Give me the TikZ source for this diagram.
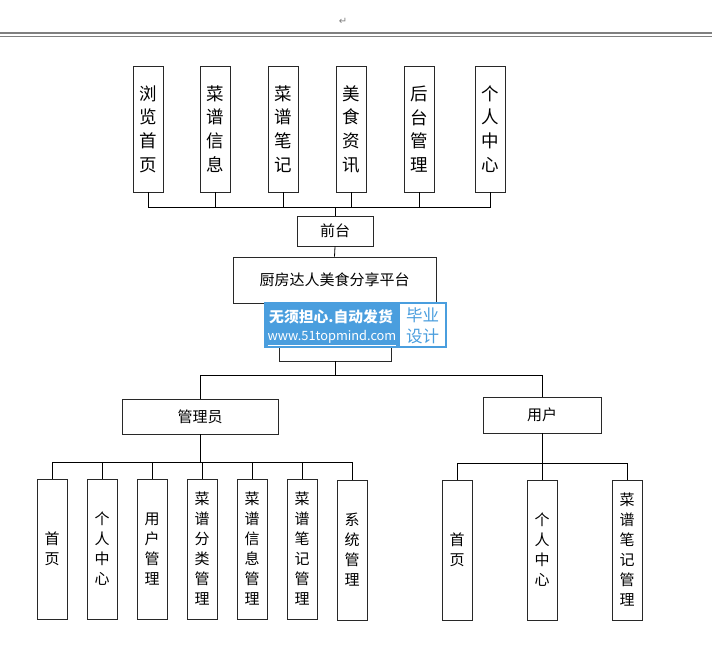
\documentclass[tikz,border=0pt]{standalone}
\usepackage{fontspec}
\usepackage{tikz}
\newfontfamily\cjk{Noto Sans CJK SC}
\newfontfamily\symfont{DejaVu Sans}
\definecolor{boxline}{RGB}{40,40,40}
\definecolor{markblue}{RGB}{74,158,222}

\tikzset{
  topbox/.style={draw=boxline,line width=0.95pt,minimum width=30pt,minimum height=126pt,inner sep=0pt,align=center,font=\cjk\fontsize{17.5}{23.7}\selectfont},
  subbox/.style={draw=boxline,line width=0.95pt,minimum width=30pt,minimum height=140pt,inner sep=0pt,align=center,font=\cjk\fontsize{15}{20}\selectfont},
  midbox/.style={draw=boxline,line width=0.95pt,inner sep=0pt,font=\cjk\fontsize{15}{17}\selectfont},
  link/.style={draw=black,line width=0.8pt}
}

\begin{document}
\begin{tikzpicture}[x=1pt,y=-1pt]
  \useasboundingbox (0,0) rectangle (712,651);
  \node[font=\symfont\fontsize{10}{10}\selectfont,text=black!50] (ret) at (343,21) {↵};
  \draw[black!50,line width=2pt] (0,33) -- (712,33);
  \draw[black!50,line width=0.8pt] (0,36.5) -- (712,36.5);

  \node[topbox] (liulan) at (148,129) {浏\\览\\首\\页};
  \node[topbox] (caipu) at (215,129) {菜\\谱\\信\\息};
  \node[topbox] (biji) at (283.5,129) {菜\\谱\\笔\\记};
  \node[topbox] (zixun) at (351.5,129) {美\\食\\资\\讯};
  \node[topbox] (houtai) at (419,129) {后\\台\\管\\理};
  \node[topbox] (geren) at (490,129) {个\\人\\中\\心};
  \coordinate (topbus) at (335,207);

  \node[midbox,minimum width=76pt,minimum height=30pt] (qiantai) at (335,231) {前台};
  \node[midbox,minimum width=203pt,minimum height=46pt] (pingtai) at (334.5,280) {厨房达人美食分享平台};
  \node[midbox,minimum width=112pt,minimum height=49pt] (yincang) at (335,336.5) {};

  \draw[link] (liulan.south) |- (topbus);
  \draw[link] (caipu.south) |- (topbus);
  \draw[link] (biji.south) |- (topbus);
  \draw[link] (zixun.south) |- (topbus);
  \draw[link] (houtai.south) |- (topbus);
  \draw[link] (geren.south) |- (topbus);
  \draw[link] (topbus) -- (qiantai.north);
  \draw[link] (qiantai.south) -- (pingtai.north);
  \draw[link] (pingtai.south) -- (yincang.north);

  \fill[markblue] (264,302) rectangle (447,348);
  \fill[white] (400,304) rectangle (445,346);
  \node[text=white,font=\cjk\bfseries\fontsize{14.8}{16}\selectfont] (mark1) at (331,317) {无须担心.自动发货};
  \node[text=white,font=\cjk\fontsize{12.8}{14}\selectfont] (mark2) at (332,338) {\underline{www.51topmind.com}};
  \node[text=markblue,font=\cjk\fontsize{16.5}{18}\selectfont] (mark3) at (422.5,315) {毕业};
  \node[text=markblue,font=\cjk\fontsize{16.5}{18}\selectfont] (mark4) at (422.5,336) {设计};

  \coordinate (midbus) at (335,375);
  \node[midbox,minimum width=156pt,minimum height=35pt] (guanli) at (200,416.5) {管理员};
  \node[midbox,minimum width=118pt,minimum height=36pt] (yonghu) at (542,415) {用户};
  \draw[link] (yincang.south) -- (midbus);
  \draw[link] (guanli.north) |- (midbus);
  \draw[link] (yonghu.north) |- (midbus);

  \coordinate (adminbus) at (200,462);
  \node[subbox] (a1) at (52,549) {首\\页};
  \node[subbox] (a2) at (102,549) {个\\人\\中\\心};
  \node[subbox] (a3) at (152,549) {用\\户\\管\\理};
  \node[subbox] (a4) at (202,549) {菜\\谱\\分\\类\\管\\理};
  \node[subbox] (a5) at (252,549) {菜\\谱\\信\\息\\管\\理};
  \node[subbox] (a6) at (302,549) {菜\\谱\\笔\\记\\管\\理};
  \node[subbox] (a7) at (352,550) {系\\统\\管\\理};
  \draw[link] (guanli.south) -- (adminbus);
  \draw[link] (a1.north) |- (adminbus);
  \draw[link] (a2.north) |- (adminbus);
  \draw[link] (a3.north) |- (adminbus);
  \draw[link] (a4.north) |- (adminbus);
  \draw[link] (a5.north) |- (adminbus);
  \draw[link] (a6.north) |- (adminbus);
  \draw[link] (a7.north) |- (adminbus);

  \coordinate (userbus) at (542,463);
  \node[subbox] (u1) at (457,550) {首\\页};
  \node[subbox] (u2) at (542,550) {个\\人\\中\\心};
  \node[subbox] (u3) at (627,550) {菜\\谱\\笔\\记\\管\\理};
  \draw[link] (yonghu.south) -- (userbus);
  \draw[link] (u1.north) |- (userbus);
  \draw[link] (u2.north) |- (userbus);
  \draw[link] (u3.north) |- (userbus);
\end{tikzpicture}
\end{document}
